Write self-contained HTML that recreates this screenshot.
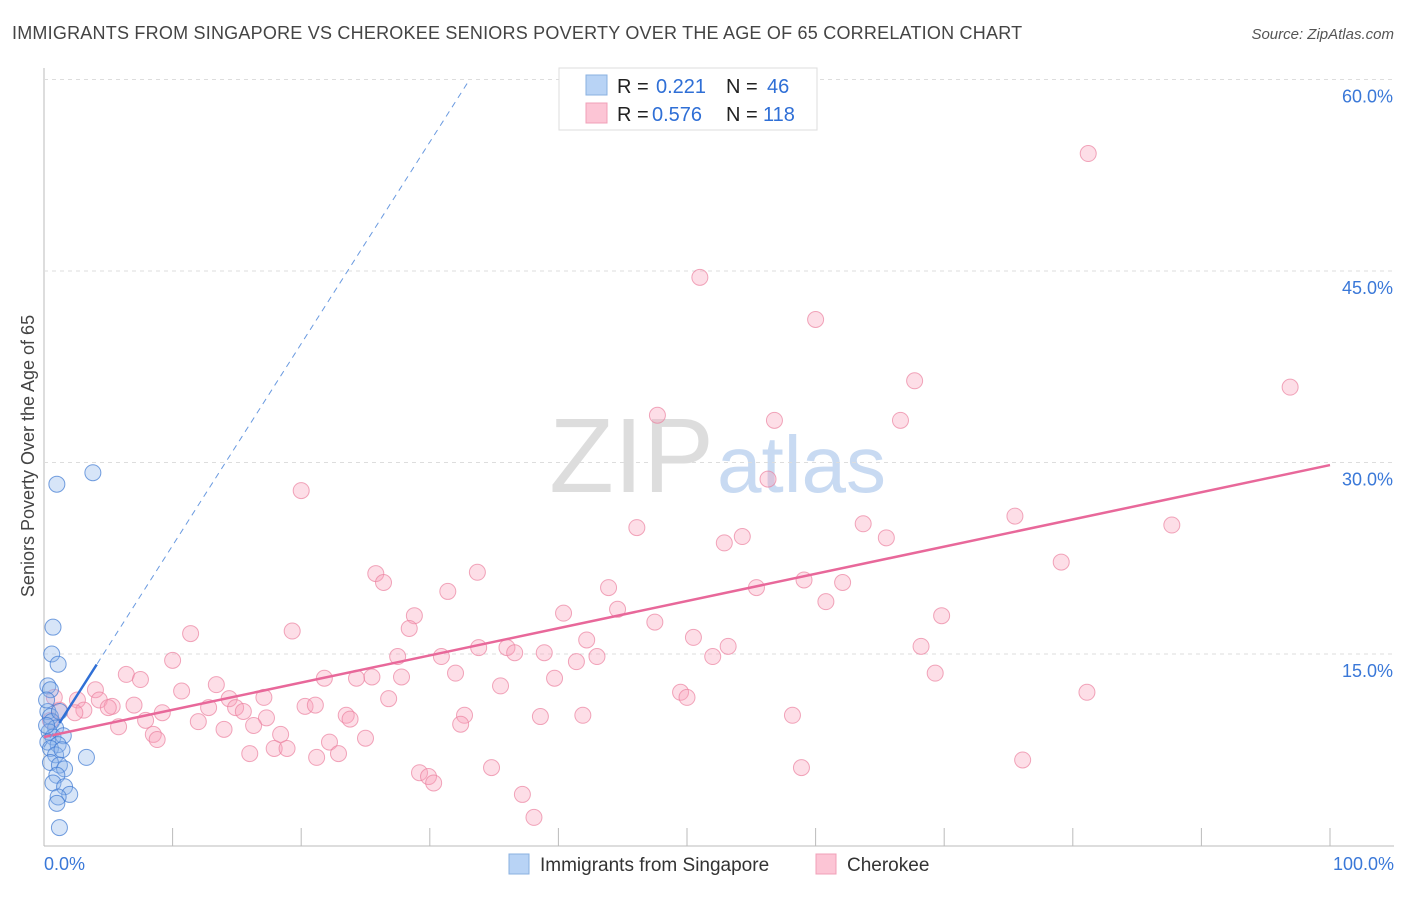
<!DOCTYPE html>
<html><head><meta charset="utf-8"><style>
body{margin:0;background:#fff;font-family:"Liberation Sans",sans-serif;}
svg text{font-family:"Liberation Sans",sans-serif;}
</style></head><body>
<svg id="chart" width="1406" height="892">
<text x="12" y="39" font-size="18" fill="#444" letter-spacing="0.22">IMMIGRANTS FROM SINGAPORE VS CHEROKEE SENIORS POVERTY OVER THE AGE OF 65 CORRELATION CHART</text>
<text x="1394" y="39" font-size="15" fill="#555" font-style="italic" text-anchor="end">Source: ZipAtlas.com</text>
<text x="714" y="492" font-size="106" fill="#ddd" text-anchor="end" font-family="Liberation Serif">ZIP</text>
<text x="717" y="492" font-size="80" fill="#c8daf2">atlas</text>
<g id="grid"></g><g id="pts"></g><g id="lines"></g>
<text transform="translate(34,456) rotate(-90)" font-size="18" fill="#444" text-anchor="middle">Seniors Poverty Over the Age of 65</text>
<g>
<rect x="559" y="68" width="258" height="62" fill="#fff" stroke="#ddd"/>
<rect x="586" y="75" width="21" height="20" fill="#b8d3f5" stroke="#8ab0e0"/>
<rect x="586" y="103" width="21" height="20" fill="#fcc5d5" stroke="#f0a0b8"/>
<text y="93" font-size="20"><tspan x="617" fill="#222">R = </tspan><tspan x="656" fill="#2f6fd6">0.221</tspan><tspan x="726" fill="#222">N = </tspan><tspan x="767" fill="#2f6fd6">46</tspan></text>
<text y="121" font-size="20"><tspan x="617" fill="#222">R = </tspan><tspan x="652" fill="#2f6fd6">0.576</tspan><tspan x="726" fill="#222">N = </tspan><tspan x="763" fill="#2f6fd6">118</tspan></text>
</g>
<g>
<rect x="509" y="854" width="20" height="20" fill="#b8d3f5" stroke="#8ab0e0"/>
<text x="540" y="871" font-size="19" fill="#333">Immigrants from Singapore</text>
<rect x="816" y="854" width="20" height="20" fill="#fcc5d5" stroke="#f0a0b8"/>
<text x="847" y="871" font-size="19" fill="#333">Cherokee</text>
</g>
</svg>
<script>
const xTicks=[0,10,20,30,40,50,60,70,80,90,100];
const yTicks=[15,30,45,60];
const blueX=[3.8,1.0,0.7,0.6,1.1,0.3,0.5,0.3,0.5,0.6,0.9,0.4,0.7,1.5,0.3,1.1,0.5,0.9,0.5,1.2,1.6,3.3,1.0,0.7,1.6,2.0,1.1,1.0,1.2,0.2,0.2,1.2,1.4];
const blueY=[29.2,28.3,17.1,15.0,14.2,12.5,12.2,10.5,10.1,9.7,9.2,8.9,8.5,8.6,8.1,7.9,7.6,7.1,6.5,6.3,6.0,6.9,5.5,4.9,4.6,4.0,3.8,3.3,1.4,11.4,9.4,10.5,7.5];
const pinkX=[81.2,51.0,60.0,67.7,96.9,47.7,56.8,66.6,56.3,20.0,75.5,46.1,63.7,87.7,54.3,52.9,65.5,79.1,25.8,33.7,26.4,59.1,62.1,43.9,31.4,55.4,60.8,40.4,44.6,28.8,69.8,28.4,47.5,11.4,19.3,50.5,42.2,33.8,36.0,68.2,53.2,30.9,36.6,38.9,27.5,52.0,43.0,41.4,10.0,32.0,6.4,7.5,21.8,24.3,27.8,25.5,69.3,39.7,13.4,4.0,10.7,35.5,49.5,81.1,50.0,14.4,17.1,26.8,2.6,4.3,7.0,5.3,12.8,14.9,20.3,21.1,3.1,1.2,9.2,15.5,5.0,17.3,23.5,23.8,32.7,38.6,41.9,58.2,2.4,7.9,12.0,16.3,32.4,5.8,14.0,8.5,18.4,22.2,25.0,8.8,17.9,18.9,22.9,16.0,21.2,76.1,34.8,58.9,29.2,29.9,30.3,37.2,38.1,0.8,0.5];
const pinkY=[54.2,44.5,41.2,36.4,35.9,33.7,33.3,33.3,28.7,27.8,25.8,24.9,25.2,25.1,24.2,23.7,24.1,22.2,21.3,21.4,20.6,20.8,20.6,20.2,19.9,20.2,19.1,18.2,18.5,18.0,18.0,17.0,17.5,16.6,16.8,16.3,16.1,15.5,15.5,15.6,15.6,14.8,15.1,15.1,14.8,14.8,14.8,14.4,14.5,13.5,13.4,13.0,13.1,13.1,13.2,13.2,13.5,13.1,12.6,12.2,12.1,12.5,12.0,12.0,11.6,11.5,11.6,11.5,11.4,11.4,11.0,10.9,10.8,10.8,10.9,11.0,10.6,10.6,10.4,10.5,10.8,10.0,10.2,9.9,10.2,10.1,10.2,10.2,10.4,9.8,9.7,9.4,9.5,9.3,9.1,8.7,8.7,8.1,8.4,8.3,7.6,7.6,7.2,7.2,6.9,6.7,6.1,6.1,5.7,5.4,4.9,4.0,2.2,11.6,9.8];
const pinkTrend=[8.5,29.8];
const blueTrend=[7.7,1.58];
const NS="http://www.w3.org/2000/svg";
const X=v=>44+v*12.86, Y=v=>845.5-v*12.767;
function mk(t,a,p){const e=document.createElementNS(NS,t);for(const k in a)e.setAttribute(k,a[k]);p.appendChild(e);return e;}
const g=document.getElementById('grid');
let ax=mk('line',{x1:44,y1:68,x2:44,y2:846,stroke:'#bbb'},g);


let bx=mk('line',{x1:44,y1:846,x2:1394,y2:846,stroke:'#bbb'},g);


yTicks.forEach(v=>{
 const l=mk('line',{x1:44,y1:Y(v),x2:1394,y2:Y(v),stroke:'#ddd','stroke-dasharray':'4,4'},g);
 
 
 const t=mk('text',{x:1393,y:Y(v)+23,'font-size':18,fill:'#3a78d8','text-anchor':'end'},g);t.textContent=v.toFixed(1)+'%';
 
 
});
xTicks.forEach(v=>{
 const l=mk('line',{x1:X(v),y1:828,x2:X(v),y2:846,stroke:'#bbb'},g);
 
 
});
[[0,'0.0%','start',44],[100,'100.0%','end',1394]].forEach(a=>{
 const t=mk('text',{x:a[3],y:870,'font-size':18,fill:'#3a78d8','text-anchor':a[2]},g);t.textContent=a[1];
 
 
});
const p=document.getElementById('pts');
pinkX.forEach((x,i)=>{
 const c=mk('circle',{cx:X(x),cy:Y(pinkY[i]),r:8,fill:'rgba(248,160,185,0.35)',stroke:'rgba(235,130,160,0.7)','stroke-width':1},p);
 
 
});
blueX.forEach((x,i)=>{
 const c=mk('circle',{cx:X(x),cy:Y(blueY[i]),r:8,fill:'rgba(140,180,235,0.35)',stroke:'rgba(60,120,210,0.7)','stroke-width':1},p);
 
 
});
const L=document.getElementById('lines');
let pl=mk('line',{x1:X(0),y1:Y(pinkTrend[0]),x2:X(100),y2:Y(pinkTrend[1]),stroke:'#e8689a','stroke-width':2.5},L);


const bxEnd=(60-blueTrend[0])/blueTrend[1];
let bd=mk('line',{x1:X(0),y1:Y(blueTrend[0]),x2:X(bxEnd),y2:Y(60),stroke:'#6a9ae0','stroke-width':1,'stroke-dasharray':'6,5'},L);


let bs=mk('line',{x1:X(1.2),y1:Y(blueTrend[0]+1.2*blueTrend[1]),x2:X(4.1),y2:Y(blueTrend[0]+4.1*blueTrend[1]),stroke:'#2f6fd6','stroke-width':2.5},L);


</script>
</body></html>
